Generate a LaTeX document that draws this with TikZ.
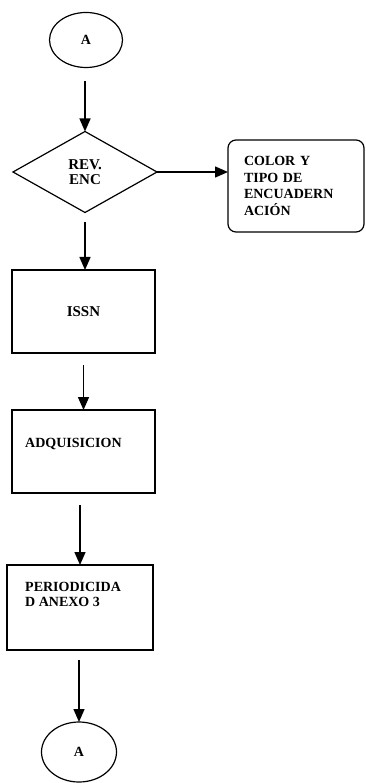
\documentclass[tikz,border=0pt]{standalone}
\usepackage{fontspec}
\setmainfont{Liberation Serif}
\usepackage{tikz}
\usetikzlibrary{shapes.geometric,arrows.meta}
\newcommand*\boxwd{143pt}
\newcommand*\boxht{83pt}
\tikzset{
    outline/.style  = {draw, line width=1.2pt, inner sep=0pt, outer sep=0pt},
    connector/.style = {outline, ellipse, minimum width=73pt, minimum height=55pt,
                    font=\bfseries\fontsize{14}{14}\selectfont},
    decision/.style = {outline, diamond, minimum width=144pt, minimum height=81pt,
                    align=center, font=\bfseries\fontsize{15}{15}\selectfont},
    process/.style  = {outline, minimum width=\boxwd, minimum height=\boxht},
    note/.style     = {outline, rounded corners=8pt, minimum width=136pt, minimum height=92pt,
                    inner xsep=16pt, text width=104pt, align=left,
                    font=\bfseries\fontsize{14}{16.5}\selectfont},
    boxtext/.style  = {inner sep=0pt, align=left, font=\bfseries\fontsize{14}{15}\selectfont},
    flow/.style     = {-{Triangle[length=13pt,width=11pt]}, line width=1.4pt},
}
\begin{document}
\begin{tikzpicture}[x=1pt,y=-1pt]
    \useasboundingbox (0,0) rectangle (365,783);

    % connector on top and the check of the binding
    \node[connector] (topA) at (86,40) {A};
    \node[decision]  (rev)  at (85,172) {REV.\\ENC};
    \node[note]      (color) at (296,186) {COLOR Y\\TIPO DE\\ENCUADERN\\ACIÓN};

    % the three steps
    \node[process] (issn) at (83.5,311.5) {\bfseries\fontsize{15}{15}\selectfont ISSN};
    \node[process] (adq)  at (83.5,451.5) {};
    \node[process, minimum width=146pt, minimum height=85pt] (per) at (80,607.5) {};
    \node[boxtext, anchor=west] (adqtxt) at ([xshift=13pt,yshift=8pt]adq.west) {ADQUISICION};
    \node[boxtext, anchor=west] (pertxt) at ([xshift=18pt,yshift=13pt]per.west) {PERIODICIDA\\D ANEXO 3};

    % connector at the bottom
    \node[connector, minimum width=75pt, minimum height=60pt] (botA) at (79,752) {A};

    % arrows between the shapes
    \draw[flow, shorten <=14pt] (topA.south -| rev.north) -- (rev.north);
    \draw[flow] (rev.east) -- (rev.east -| color.west);
    \draw[flow, shorten <=10pt] (rev.south) -- (rev.south |- issn.north);
    \draw[flow, shorten <=12pt] (issn.south) -- (adq.north);
    \draw[flow, shorten <=12pt] (per.north |- adq.south) -- (per.north);
    \draw[flow, shorten <=10pt] (botA.north |- per.south) -- (botA.north);
\end{tikzpicture}
\end{document}
